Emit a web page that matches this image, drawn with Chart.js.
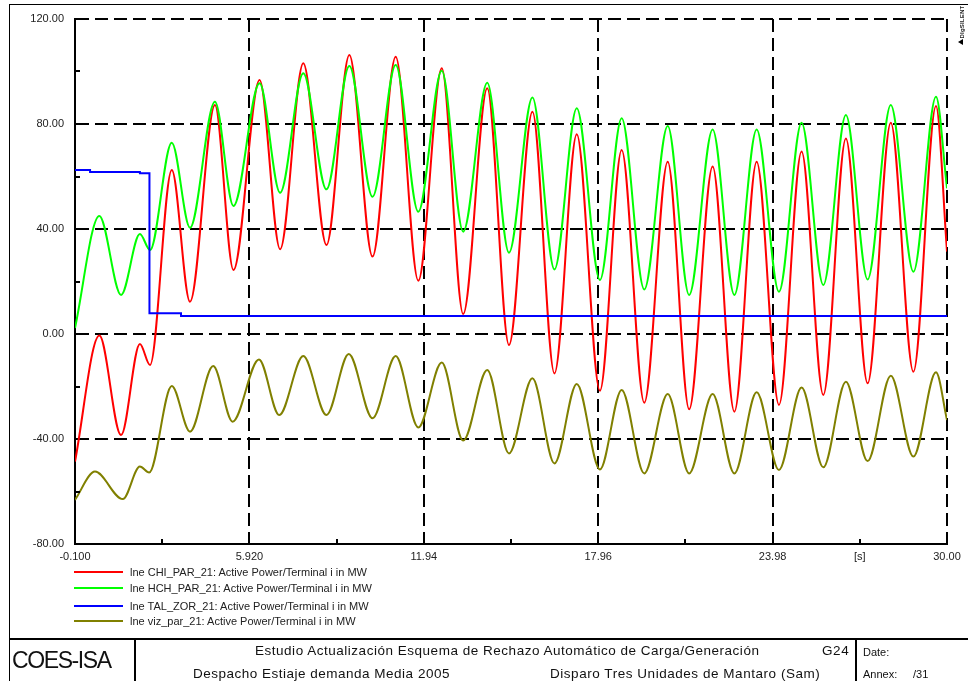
<!DOCTYPE html>
<html>
<head>
<meta charset="utf-8">
<script src="https://cdn.jsdelivr.net/npm/chart.js@4/dist/chart.umd.min.js"></script>
<style>
html,body{margin:0;padding:0;background:#fff;}
#wrap{position:relative;width:968px;height:681px;overflow:hidden;font-family:"Liberation Sans",Arial,sans-serif;color:#111;background:#fff;}
#c{position:absolute;left:0;top:0;}
.ln{position:absolute;background:#000;}
.txt{position:absolute;white-space:nowrap;}
.leg{position:absolute;left:74px;height:14px;line-height:14px;font-size:11px;color:#222;white-space:nowrap;}
.leg i{display:inline-block;width:49px;height:2px;vertical-align:middle;margin-right:7px;position:relative;top:-1px;}
#brand{position:absolute;left:956px;top:8px;width:10px;height:31px;}
#brand span{position:absolute;left:-10px;top:10px;width:31px;font-size:6px;font-weight:bold;line-height:10px;text-align:center;transform:rotate(-90deg);color:#222;letter-spacing:0.2px;}
#tri{position:absolute;left:958px;top:39px;width:0;height:0;border-top:3px solid transparent;border-bottom:3px solid transparent;border-right:5px solid #000;}
</style>
</head>
<body>
<div id="wrap">
<canvas id="c" width="968" height="681"></canvas>
<div class="ln" style="left:9px;top:4px;width:959px;height:1px;"></div>
<div class="ln" style="left:9px;top:4px;width:1px;height:677px;"></div>
<div class="ln" style="left:9px;top:638px;width:959px;height:2px;"></div>
<div class="ln" style="left:134px;top:638px;width:2px;height:43px;"></div>
<div class="ln" style="left:855px;top:638px;width:2px;height:43px;"></div>
<div id="legend"></div>
<div class="txt" style="left:12px;top:647px;font-size:23px;letter-spacing:-1.4px;line-height:26px;">COES-ISA</div>
<div class="txt" style="left:255px;top:643px;font-size:13.5px;letter-spacing:0.52px;line-height:16px;">Estudio Actualización Esquema de Rechazo Automático de Carga/Generación</div>
<div class="txt" style="left:822px;top:643px;font-size:13.5px;letter-spacing:0.6px;line-height:16px;">G24</div>
<div class="txt" style="left:193px;top:666px;font-size:13.5px;letter-spacing:0.5px;line-height:16px;">Despacho Estiaje demanda Media 2005</div>
<div class="txt" style="left:550px;top:666px;font-size:13.5px;letter-spacing:0.54px;line-height:16px;">Disparo Tres Unidades de Mantaro (Sam)</div>
<div class="txt" style="left:863px;top:645px;font-size:11px;line-height:14px;">Date:</div>
<div class="txt" style="left:863px;top:667px;font-size:11px;line-height:14px;">Annex:</div>
<div class="txt" style="left:913px;top:667px;font-size:11px;line-height:14px;">/31</div>
<div id="brand"><span>DIgSILENT</span></div>
<div id="tri"></div>
</div>
<script>
// ---- data ----
const seriesLabels = [
  'lne CHI_PAR_21: Active Power/Terminal i in MW',
  'lne HCH_PAR_21: Active Power/Terminal i in MW',
  'lne TAL_ZOR_21: Active Power/Terminal i in MW',
  'lne viz_par_21: Active Power/Terminal i in MW'
];
const seriesColors = ['#ff0000', '#00ff00', '#0000ff', '#808000'];

const chiTime = [-0.1, 0.74, 1.49, 2.14, 2.49, 3.24, 3.87, 4.73, 5.37, 6.27, 6.98, 7.78, 8.58, 9.37, 10.17, 10.97, 11.75, 12.56, 13.30, 14.13, 14.88, 15.69, 16.45, 17.22, 18.02, 18.77, 19.55, 20.36, 21.10, 21.91, 22.66, 23.43, 24.20, 24.98, 25.73, 26.51, 27.26, 28.06, 28.84, 29.62, 30.0];
const chiMW = [-48.6, -0.6, -38.5, -3.8, -11.8, 62.5, 12.3, 87.2, 24.4, 96.8, 32.3, 103.1, 33.9, 106.3, 29.5, 105.6, 20.3, 101.2, 7.6, 93.6, -4.2, 84.7, -15.0, 76.1, -21.6, 70.1, -26.2, 65.6, -28.7, 63.8, -29.6, 65.6, -27.0, 69.5, -23.2, 74.5, -18.8, 80.5, -14.4, 86.9, 31.4];

const hchTime = [-0.1, 0.74, 1.49, 2.14, 2.49, 3.24, 3.87, 4.73, 5.37, 6.27, 6.98, 7.78, 8.58, 9.37, 10.17, 10.97, 11.75, 12.56, 13.30, 14.13, 14.88, 15.69, 16.45, 17.22, 18.02, 18.77, 19.55, 20.36, 21.10, 21.91, 22.66, 23.43, 24.20, 24.98, 25.73, 26.51, 27.26, 28.06, 28.84, 29.62, 30.0];
const hchMW = [2.3, 45.0, 14.9, 38.1, 32.0, 72.9, 40.5, 88.5, 48.8, 95.5, 53.8, 99.3, 55.1, 102.1, 52.3, 102.5, 46.6, 100.3, 39.0, 95.7, 31.0, 90.1, 24.6, 86.0, 20.6, 82.2, 17.0, 79.2, 14.9, 77.9, 14.9, 77.9, 16.1, 80.5, 18.7, 83.4, 20.8, 87.2, 23.7, 90.4, 55.5];

const talTime = [-0.1, 0.42, 2.14, 2.47, 3.56, 30.0];
const talMW = [62.5, 61.7, 61.2, 7.9, 6.9, 6.9];

const vizTime = [-0.1, 0.59, 1.55, 2.14, 2.46, 3.24, 3.87, 4.67, 5.34, 6.25, 6.95, 7.78, 8.58, 9.35, 10.17, 10.97, 11.75, 12.56, 13.30, 14.13, 14.88, 15.69, 16.45, 17.22, 18.02, 18.77, 19.55, 20.36, 21.10, 21.91, 22.66, 23.43, 24.20, 24.98, 25.73, 26.51, 27.26, 28.06, 28.84, 29.62, 30.0];
const vizMW = [-63.2, -52.4, -62.9, -50.5, -52.8, -19.8, -37.2, -12.2, -33.4, -9.7, -30.9, -8.4, -30.9, -7.6, -32.1, -8.4, -35.6, -10.9, -40.6, -13.7, -45.5, -16.9, -49.3, -19.0, -51.6, -21.3, -53.1, -22.9, -53.1, -22.9, -53.1, -22.2, -51.8, -20.4, -50.8, -18.2, -48.4, -15.9, -46.7, -14.6, -32.8];

// ---- axis ticks ----
const xAxisTicks  = [-0.1, 2.91, 5.92, 8.93, 11.94, 14.95, 17.96, 20.97, 23.98, 26.99, 30.0];
const xAxisLabels = ['-0.100', '', '5.920', '', '11.94', '', '17.96', '', '23.98', '[s]', '30.00'];
const xMinorTicks = [2.91, 8.93, 14.95, 20.97, 26.99];
const yAxisTicks  = [-80, -60, -40, -20, 0, 20, 40, 60, 80, 100, 120];
const yAxisLabels = ['-80.00', '', '-40.00', '', '0.00', '', '40.00', '', '80.00', '', '120.00'];
const yMinorTicks = [-60, -20, 20, 60, 100];

function pts(t, v) { return t.map((x, i) => ({x: x, y: v[i]})); }

const innerTicks = {
  id: 'innerTicks',
  afterDatasetsDraw(chart) {
    const {ctx, chartArea: a, scales: {x, y}} = chart;
    ctx.save();
    ctx.strokeStyle = '#000';
    ctx.lineWidth = 2;
    ctx.beginPath();
    xMinorTicks.forEach(v => { const px = Math.round(x.getPixelForValue(v)); ctx.moveTo(px, a.bottom); ctx.lineTo(px, a.bottom - 5); });
    yMinorTicks.forEach(v => { const py = Math.round(y.getPixelForValue(v)); ctx.moveTo(a.left, py); ctx.lineTo(a.left + 5, py); });
    ctx.stroke();
    ctx.restore();
  }
};

Chart.defaults.font.family = '"Liberation Sans", Arial, sans-serif';
Chart.defaults.font.size = 11;
Chart.defaults.color = '#222';

const common = {pointRadius: 0, borderWidth: 2, fill: false};
const chart = new Chart(document.getElementById('c'), {
  type: 'line',
  data: {
    datasets: [
      Object.assign({label: seriesLabels[0], data: pts(chiTime, chiMW), borderColor: seriesColors[0], cubicInterpolationMode: 'monotone', order: 4}, common),
      Object.assign({label: seriesLabels[1], data: pts(hchTime, hchMW), borderColor: seriesColors[1], cubicInterpolationMode: 'monotone', order: 3}, common),
      Object.assign({label: seriesLabels[2], data: pts(talTime, talMW), borderColor: seriesColors[2], stepped: 'before', order: 2}, common),
      Object.assign({label: seriesLabels[3], data: pts(vizTime, vizMW), borderColor: seriesColors[3], cubicInterpolationMode: 'monotone', order: 1}, common)
    ]
  },
  options: {
    responsive: false,
    animation: false,
    devicePixelRatio: 1,
    layout: {padding: {left: 15, top: 19, right: 21, bottom: 117}},
    plugins: {legend: {display: false}, tooltip: {enabled: false}},
    scales: {
      x: {
        type: 'linear', min: -0.1, max: 30.0,
        afterBuildTicks: s => { s.ticks = xAxisTicks.map(v => ({value: v})); },
        afterFit: s => { s.height = 20; },
        ticks: {autoSkip: false, maxRotation: 0, padding: 6, callback: (v, i) => xAxisLabels[i]},
        grid: {drawTicks: false, lineWidth: 2,
               color: c => (c.tick && xAxisLabels[c.index] !== '' && xAxisLabels[c.index] !== '[s]' && c.index !== 0) ? '#000' : 'rgba(0,0,0,0)'},
        border: {display: true, color: '#000', width: 2, dash: [13, 6]}
      },
      y: {
        type: 'linear', min: -80, max: 120,
        afterBuildTicks: s => { s.ticks = yAxisTicks.map(v => ({value: v})); },
        afterFit: s => { s.width = 60; },
        ticks: {autoSkip: false, padding: 11, callback: (v, i) => yAxisLabels[i]},
        grid: {drawTicks: false, lineWidth: 2,
               color: c => (c.tick && yAxisLabels[c.index] !== '' && c.index !== 0) ? '#000' : 'rgba(0,0,0,0)'},
        border: {display: true, color: '#000', width: 2, dash: [13, 6]}
      }
    }
  },
  plugins: [innerTicks]
});

// HTML legend from the chart's datasets
const legTops = [565, 581, 599, 614];
const legEl = document.getElementById('legend');
chart.data.datasets.forEach((d, i) => {
  const row = document.createElement('div');
  row.className = 'leg';
  row.style.top = legTops[i] + 'px';
  const sw = document.createElement('i');
  sw.style.background = d.borderColor;
  row.appendChild(sw);
  row.appendChild(document.createTextNode(d.label));
  legEl.appendChild(row);
});
</script>
</body>
</html>
